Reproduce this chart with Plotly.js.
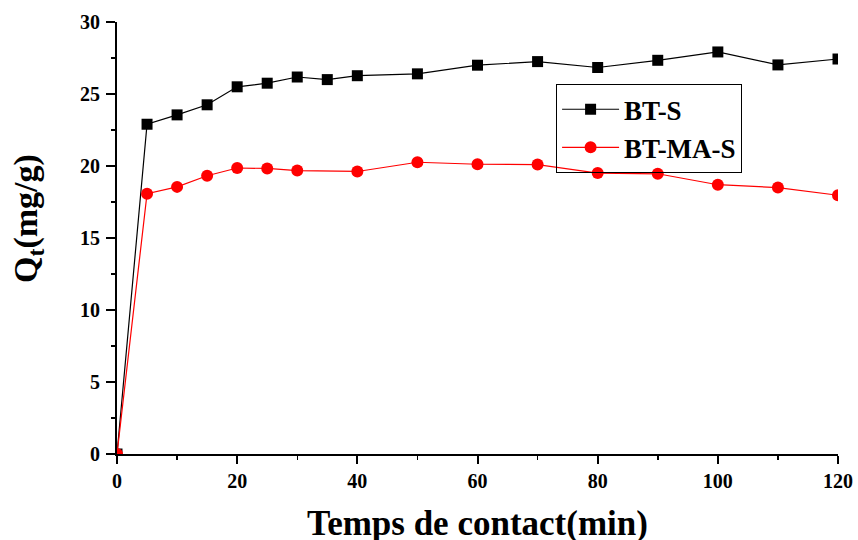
<!DOCTYPE html>
<html>
<head>
<meta charset="utf-8">
<script src="https://cdn.plot.ly/plotly-3.0.1.min.js"></script>
<style>
  html, body { margin: 0; padding: 0; background: #fff; }
  #chart { width: 858px; height: 540px; }
</style>
</head>
<body>
<div id="chart"></div>
<script>
// Contact time (min)
const timeBTS = [0, 5, 10, 15, 20, 25, 30, 35, 40, 50, 60, 70, 80, 90, 100, 110, 120];
const qBTS = [0, 22.9, 23.55, 24.25, 25.5, 25.75, 26.18, 26.0, 26.27, 26.4, 27.0, 27.25, 26.84, 27.34, 27.92, 27.02, 27.43];

const timeBTMAS = [0, 5, 10, 15, 20, 25, 30, 40, 50, 60, 70, 80, 90, 100, 110, 120];
const qBTMAS = [0, 18.08, 18.55, 19.32, 19.86, 19.83, 19.68, 19.62, 20.26, 20.12, 20.1, 19.51, 19.46, 18.7, 18.5, 17.97];

const seriesNames = ['BT-S', 'BT-MA-S'];
const xTitle = 'Temps de contact(min)';
const yTitle = 'Q<sub>t</sub>(mg/g)';

const serif = 'Liberation Serif';

const traces = [
  {
    x: timeBTS, y: qBTS, name: seriesNames[0],
    mode: 'lines+markers', type: 'scatter',
    line: { color: '#000000', width: 1.2 },
    marker: { symbol: 'square', size: 11, color: '#000000' }
  },
  {
    x: timeBTMAS, y: qBTMAS, name: seriesNames[1],
    mode: 'lines+markers', type: 'scatter',
    line: { color: '#ff0000', width: 1.2 },
    marker: { symbol: 'circle', size: 12, color: '#ff0000' }
  }
];

const layout = {
  width: 858, height: 540,
  margin: { l: 117, r: 20, t: 22, b: 86 },
  paper_bgcolor: '#ffffff', plot_bgcolor: '#ffffff',
  showlegend: true,
  legend: {
    x: 0.609, y: 0.856, xanchor: 'left', yanchor: 'top',
    bordercolor: '#000000', borderwidth: 1, bgcolor: 'rgba(255,255,255,0)',
    itemwidth: 57, tracegroupgap: 0,
    font: { family: serif, size: 27, color: '#000000', weight: 'bold' }
  },
  xaxis: {
    range: [0, 120], dtick: 20, tick0: 0,
    showgrid: false, zeroline: false,
    showline: true, linecolor: '#000000', linewidth: 2,
    ticks: 'outside', ticklen: 8, tickwidth: 2, tickcolor: '#000000',
    minor: { dtick: 10, ticks: 'outside', ticklen: 4, tickwidth: 1.5, tickcolor: '#000000', showgrid: false },
    tickfont: { family: serif, size: 20, color: '#000000', weight: 'bold' }
  },
  yaxis: {
    range: [0, 30], dtick: 5, tick0: 0,
    showgrid: false, zeroline: false,
    showline: true, linecolor: '#000000', linewidth: 2,
    ticks: 'outside', ticklen: 9, tickwidth: 2, tickcolor: '#000000',
    ticklabelstandoff: 2,
    minor: { dtick: 2.5, ticks: 'outside', ticklen: 4, tickwidth: 1.5, tickcolor: '#000000', showgrid: false },
    tickfont: { family: serif, size: 20, color: '#000000', weight: 'bold' }
  },
  annotations: [
    {
      // x-axis title
      text: xTitle, showarrow: false,
      xref: 'paper', yref: 'paper', x: 0.5, y: 0,
      xanchor: 'center', yanchor: 'middle', yshift: -69,
      font: { family: serif, size: 35, color: '#000000', weight: 'bold' }
    },
    {
      // y-axis title
      text: yTitle, textangle: -90, showarrow: false,
      xref: 'paper', yref: 'paper', x: 0, y: 0.544,
      xanchor: 'center', yanchor: 'middle', xshift: -89,
      font: { family: serif, size: 34, color: '#000000', weight: 'bold' }
    }
  ]
};

Plotly.newPlot('chart', traces, layout, { displayModeBar: false, staticPlot: true });
</script>
</body>
</html>
